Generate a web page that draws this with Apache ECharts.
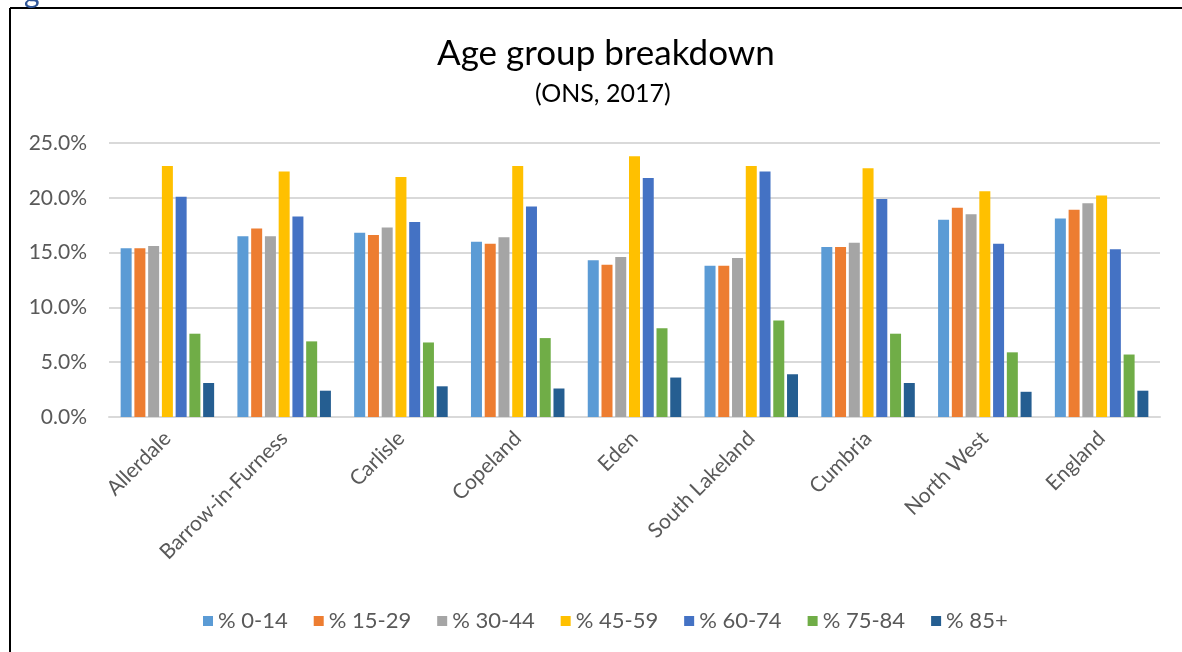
<!DOCTYPE html>
<html>
<head>
<meta charset="utf-8">
<script src="https://cdn.jsdelivr.net/npm/echarts@6/dist/echarts.min.js"></script>
<style>
html,body{margin:0;padding:0;background:#fff;}
#chart{width:1182px;height:652px;}
</style>
</head>
<body>
<div id="chart"></div>
<script>
const categories = ['Allerdale','Barrow-in-Furness','Carlisle','Copeland','Eden','South Lakeland','Cumbria','North West','England'];
const seriesNames = ['% 0-14','% 15-29','% 30-44','% 45-59','% 60-74','% 75-84','% 85+'];
const age0_14  = [15.4, 16.5, 16.8, 16.0, 14.3, 13.8, 15.5, 18.0, 18.1];
const age15_29 = [15.4, 17.2, 16.6, 15.8, 13.9, 13.8, 15.5, 19.1, 18.9];
const age30_44 = [15.6, 16.5, 17.3, 16.4, 14.6, 14.5, 15.9, 18.5, 19.5];
const age45_59 = [22.9, 22.4, 21.9, 22.9, 23.8, 22.9, 22.7, 20.6, 20.2];
const age60_74 = [20.1, 18.3, 17.8, 19.2, 21.8, 22.4, 19.9, 15.8, 15.3];
const age75_84 = [7.6, 6.9, 6.8, 7.2, 8.1, 8.8, 7.6, 5.9, 5.7];
const age85p   = [3.1, 2.4, 2.8, 2.6, 3.6, 3.9, 3.1, 2.3, 2.4];
const yTicks = [0, 5, 10, 15, 20, 25];
const colors = ['#5B9BD5','#ED7D31','#A5A5A5','#FFC000','#4472C4','#70AD47','#255E91'];

const allData = [age0_14, age15_29, age30_44, age45_59, age60_74, age75_84, age85p];
const FONT = 'Lato, "Open Sans", sans-serif';

const chart = echarts.init(document.getElementById('chart'), null, {renderer:'canvas'});
chart.setOption({
  animation: false,
  color: colors,
  title: [{
    text: 'Age group breakdown',
    left: 432, top: 31,
    textStyle: {fontFamily: FONT, fontSize: 35, fontWeight: 'normal', color: '#000'}
  },{
    text: '(ONS, 2017)',
    left: 530, top: 76,
    textStyle: {fontFamily: FONT, fontSize: 25, fontWeight: 'normal', color: '#000'}
  }],
  legend: {
    data: seriesNames,
    bottom: 15,
    left: 198,
    itemWidth: 10, itemHeight: 10, itemGap: 26,
    icon: 'rect',
    textStyle: {fontFamily: FONT, fontSize: 22, color: '#595959', padding:[0,0,0,0]}
  },
  grid: {left: 109, right: 22, top: 143, bottom: 235, containLabel: false},
  xAxis: {
    type: 'category',
    data: categories,
    axisLine: {lineStyle: {color: '#D9D9D9', width: 2}},
    axisTick: {show: false},
    axisLabel: {rotate: 45, margin: 18, fontFamily: FONT, fontSize: 21, color: '#595959', interval: 0}
  },
  yAxis: {
    type: 'value',
    min: yTicks[0], max: yTicks[yTicks.length-1], interval: 5,
    axisLine: {show: false},
    axisTick: {show: false},
    splitLine: {lineStyle: {color: '#D9D9D9', width: 2}},
    axisLabel: {fontFamily: FONT, fontSize: 21, color: '#595959', margin: 22,
      formatter: v => v.toFixed(1) + '%'}
  },
  series: seriesNames.map((n, i) => ({
    name: n,
    type: 'bar',
    data: allData[i],
    barWidth: 11,
    barGap: '25%',
    itemStyle: {color: colors[i]}
  })),
  graphic: [
    {type:'line', shape:{x1:10, y1:8, x2:10, y2:652}, style:{stroke:'#000', lineWidth:2}},
    {type:'line', shape:{x1:10, y1:8, x2:1182, y2:8}, style:{stroke:'#000', lineWidth:2}},
    {type:'text', left: 24, top: -22, style:{text:'g', fontFamily: FONT, fontSize: 30, fill:'#2F5597'}}
  ]
});
</script>
</body>
</html>
